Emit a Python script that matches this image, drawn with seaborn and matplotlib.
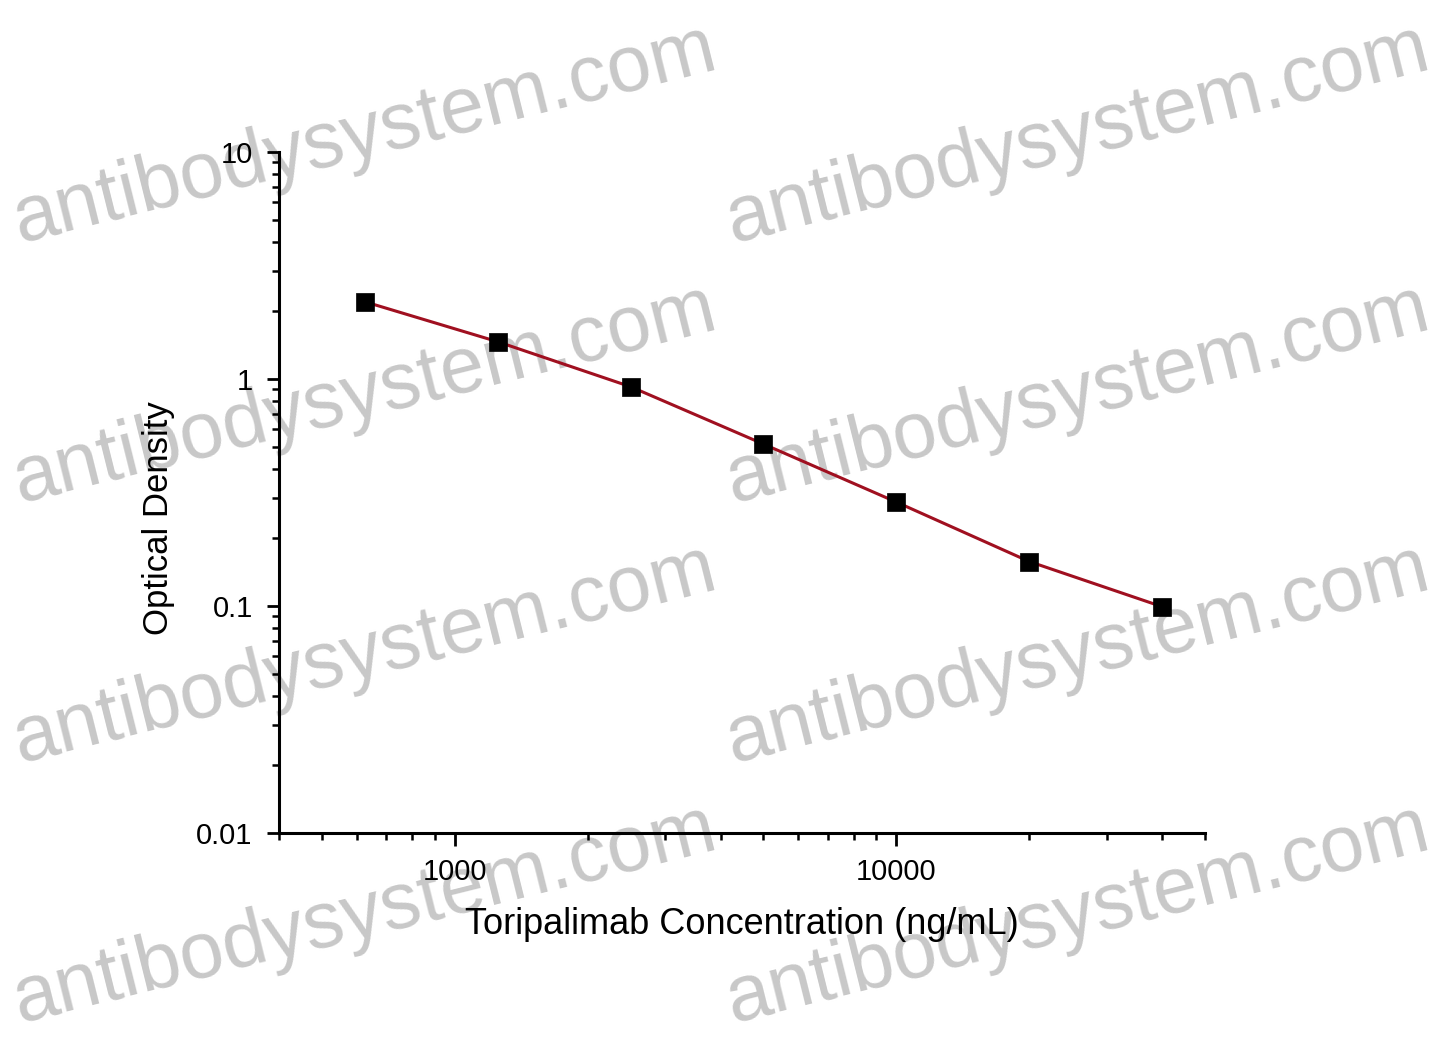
import numpy as np
import pandas as pd
import matplotlib
matplotlib.use('Agg')
import matplotlib.pyplot as plt
import matplotlib.ticker as mticker
import seaborn as sns

# Standard curve readings
concentration = [625, 1250, 2500, 5000, 10000, 20000, 40000]
optical_density = [2.19, 1.46, 0.925, 0.517, 0.287, 0.157, 0.0993]

x_ticks = [1000, 10000]
x_tick_labels = ['1000', '10000']
y_ticks = [0.01, 0.1, 1, 10]
y_tick_labels = ['0.01', '0.1', '1', '10']

watermark = 'antibodysystem.com'

sns.set_style('ticks')
plt.rcParams['font.family'] = ['Liberation Sans', 'DejaVu Sans']

df = pd.DataFrame({'Concentration': concentration, 'OD': optical_density})

fig = plt.figure(figsize=(14.4, 10.46), dpi=100)
ax = fig.add_axes([0.1938, 0.2036, 0.8368 - 0.1938, 0.8547 - 0.2036])
ax.set_facecolor('none')

# watermark rows behind the plot
for cy in [135, 395, 655, 915]:
    for cx in [365, 1078]:
        fig.text(cx / 1440, 1 - cy / 1046, watermark, fontsize=57, color='#c8c8c8',
                 rotation=14, ha='center', va='center', zorder=-5,
                 rotation_mode='anchor')

sns.lineplot(data=df, x='Concentration', y='OD', ax=ax, color='#a01020',
             linewidth=2.2, zorder=2)
sns.scatterplot(data=df, x='Concentration', y='OD', ax=ax, marker='s', s=150,
                color='black', edgecolor='black', linewidth=0.5, zorder=3)

ax.set_xscale('log')
ax.set_yscale('log')
ax.set_xlim(400, 50000)
ax.set_ylim(0.01, 10)

ax.set_xticks(x_ticks)
ax.set_xticklabels(x_tick_labels)
ax.set_yticks(y_ticks)
ax.set_yticklabels(y_tick_labels)
ax.xaxis.set_minor_locator(mticker.LogLocator(base=10, subs=np.arange(2, 10)))
ax.yaxis.set_minor_locator(mticker.LogLocator(base=10, subs=np.arange(2, 10)))
ax.xaxis.set_minor_formatter(mticker.NullFormatter())
ax.yaxis.set_minor_formatter(mticker.NullFormatter())

sns.despine(ax=ax)
for side in ['left', 'bottom']:
    ax.spines[side].set_linewidth(2.2)
    ax.spines[side].set_color('black')

ax.tick_params(which='major', direction='out', length=9, width=2, labelsize=21,
               colors='black', pad=9)
ax.tick_params(which='minor', direction='out', length=5, width=1.8, colors='black')
ax.tick_params(axis='y', which='major', pad=10)

ax.set_xlabel('Toripalimab Concentration (ng/mL)', fontsize=26, color='black')
ax.set_ylabel('Optical Density', fontsize=25, color='black')
ax.xaxis.set_label_coords(0.5, -0.108)
ax.yaxis.set_label_coords(-0.112, 0.4626)

fig.savefig('out.png', dpi=100, facecolor='white')
